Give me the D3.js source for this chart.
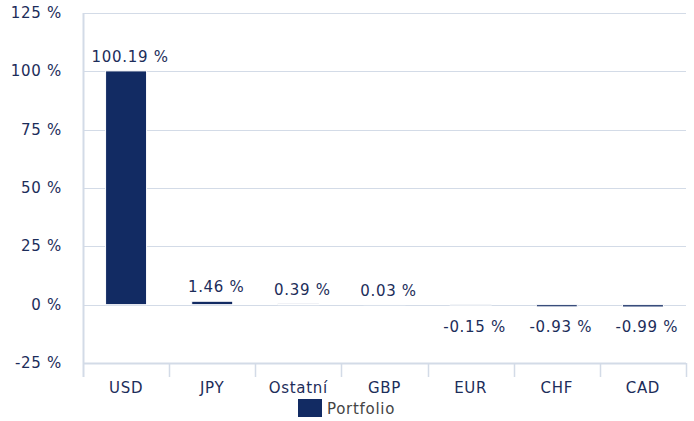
<!DOCTYPE html>
<html lang="cs">
<head>
<meta charset="UTF-8">
<title>Portfolio</title>
<script src="https://cdn.jsdelivr.net/npm/d3@7/dist/d3.min.js"></script>
<style>
  body { margin: 0; background: #fff; }
  text { font-family: "DejaVu Sans", Verdana, sans-serif; letter-spacing: 0.7px; }
</style>
</head>
<body>
<script>
  // data
  const categories = ["USD", "JPY", "Ostatní", "GBP", "EUR", "CHF", "CAD"];
  const portfolio = [100.19, 1.46, 0.39, 0.03, -0.15, -0.93, -0.99];
  const yTicks = [-25, 0, 25, 50, 75, 100, 125];
  const seriesName = "Portfolio";

  const w = 694, h = 421;
  const m = { left: 83, right: 8, top: 13, bottom: 58 };
  const navy = "#122b63";
  const textCol = "#1c2d5a";
  const gridCol = "#d3dbe7";

  const svg = d3.select("body").append("svg").attr("width", w).attr("height", h);

  const x = d3.scaleBand().domain(categories).range([m.left, w - m.right]).paddingInner(0).paddingOuter(0);
  const y = d3.scaleLinear().domain([-25, 125]).range([h - m.bottom, m.top]);

  // grid
  svg.append("g").selectAll("line").data(yTicks).enter().append("line")
    .attr("x1", m.left).attr("x2", w - m.right)
    .attr("y1", d => Math.round(y(d)) + 0.5).attr("y2", d => Math.round(y(d)) + 0.5)
    .attr("stroke", gridCol).attr("stroke-width", d => d === -25 ? 2 : 1);

  // left axis line
  svg.append("line")
    .attr("x1", m.left + 0.5).attr("x2", m.left + 0.5)
    .attr("y1", y(125)).attr("y2", y(-25) + 14)
    .attr("stroke", gridCol).attr("stroke-width", 2);

  // category ticks
  const bounds = categories.map(c => x(c)).slice(1).concat([w - m.right]);
  svg.append("g").selectAll("line").data(bounds).enter().append("line")
    .attr("x1", d => Math.round(d) + 0.5).attr("x2", d => Math.round(d) + 0.5)
    .attr("y1", y(-25)).attr("y2", y(-25) + 14)
    .attr("stroke", gridCol).attr("stroke-width", 1.5);

  // y labels
  svg.append("g").selectAll("text").data(yTicks).enter().append("text")
    .attr("x", 62).attr("y", d => y(d) + 5)
    .attr("text-anchor", "end").attr("font-size", "15px").attr("fill", textCol)
    .text(d => d + " %");

  // x labels
  svg.append("g").selectAll("text").data(categories).enter().append("text")
    .attr("x", d => x(d) + x.bandwidth() / 2).attr("y", y(-25) + 30)
    .attr("text-anchor", "middle").attr("font-size", "15px").attr("fill", textCol)
    .text(d => d);

  // bars
  const bw = 41;
  svg.append("g").selectAll("rect").data(portfolio).enter().append("rect")
    .attr("x", (d, i) => x(categories[i]) + x.bandwidth() / 2 - bw / 2)
    .attr("width", bw)
    .attr("y", d => y(Math.max(0, d)))
    .attr("height", d => Math.abs(y(d) - y(0)))
    .attr("fill", navy).attr("stroke", "#fff").attr("stroke-width", 1);

  // value labels
  svg.append("g").selectAll("text").data(portfolio).enter().append("text")
    .attr("x", (d, i) => x(categories[i]) + x.bandwidth() / 2 + 4)
    .attr("y", d => d >= 0 ? y(d) - 9 : y(0) + 27)
    .attr("text-anchor", "middle").attr("font-size", "15px").attr("fill", textCol)
    .text(d => d.toFixed(2) + " %");

  // legend
  svg.append("rect").attr("x", 298).attr("y", 399).attr("width", 24).attr("height", 18).attr("fill", navy);
  svg.append("text").attr("x", 327).attr("y", 414).attr("font-size", "15px").attr("fill", "#444")
    .text(seriesName);
</script>
</body>
</html>
